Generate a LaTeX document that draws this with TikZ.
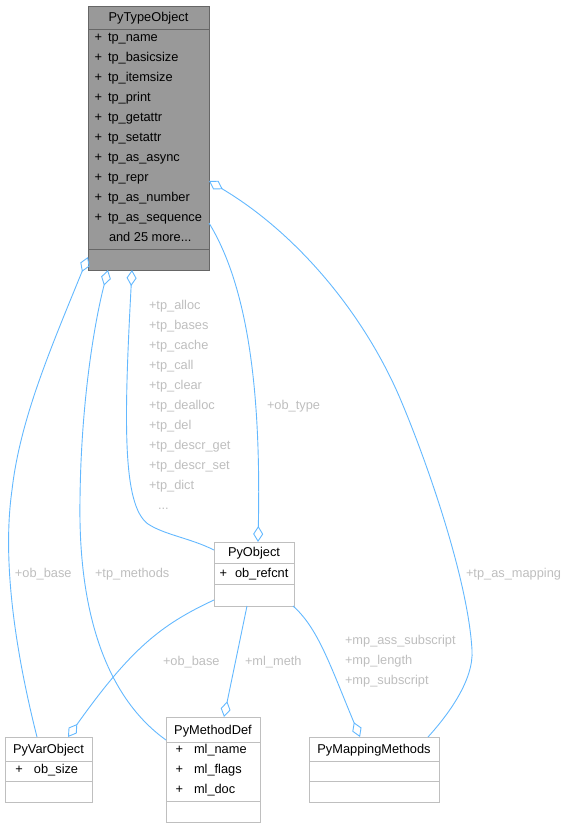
\documentclass[tikz,border=0pt]{standalone}
\usepackage{fontspec}
\setmainfont{Liberation Sans}
\usetikzlibrary{arrows.meta,calc}
\definecolor{edgec}{HTML}{63B8FF}
\definecolor{lblc}{HTML}{BEBEBE}
\definecolor{boxc}{HTML}{BFBFBF}
\definecolor{hlfill}{HTML}{999999}
\definecolor{hldraw}{HTML}{666666}
\begin{document}
\begin{tikzpicture}[x=1pt,y=-1pt,
  every node/.style={font=\fontsize{12.8}{15}\selectfont, inner sep=0pt, outer sep=0pt},
  classbox/.style={draw=boxc, fill=white, line width=1pt, rectangle, anchor=north west},
  hlbox/.style={draw=hldraw, fill=hlfill, line width=1pt, rectangle, anchor=north west},
  sepw/.style={draw=boxc, line width=1pt},
  seph/.style={draw=hldraw, line width=1pt},
  txt/.style={anchor=base west, text=black},
  ttl/.style={anchor=base, text=black},
  lbl/.style={anchor=base west, text=lblc},
  conn/.style={draw=edgec, line width=0.9pt, -{Diamond[open, length=16pt, width=10pt]}},
]
\useasboundingbox (0,0) rectangle (571,828);

% ---- PyTypeObject
\node[hlbox, minimum width=121pt, minimum height=264pt] (pto) at (88,6) {};
\draw[seph] ([yshift=-23pt]pto.north west) -- ([yshift=-23pt]pto.north east);
\draw[seph] ([yshift=21pt]pto.south west) -- ([yshift=21pt]pto.south east);
\node[ttl] (ptottl) at (148.5,21.5) {PyTypeObject};
\foreach \t [count=\i] in {tp\_name,tp\_basicsize,tp\_itemsize,tp\_print,tp\_getattr,tp\_setattr,tp\_as\_async,tp\_repr,tp\_as\_number,tp\_as\_sequence}{
  \node[txt] (ptop\i) at (94.5,21+20*\i) {+};
  \node[txt] (ptoa\i) at (108,21+20*\i) {\t};
}
\node[txt] (ptomore) at (109,241) {and 25 more...};

% ---- PyObject
\node[classbox, minimum width=80pt, minimum height=64pt] (po) at (214,542) {};
\draw[sepw] ([yshift=-21pt]po.north west) -- ([yshift=-21pt]po.north east);
\draw[sepw] ([yshift=22pt]po.south west) -- ([yshift=22pt]po.south east);
\node[ttl] (pottl) at (254,556.5) {PyObject};
\node[txt] (pop1) at (219.5,577.5) {+};
\node[txt] (poa1) at (235,577.5) {ob\_refcnt};

% ---- PyVarObject
\node[classbox, minimum width=87pt, minimum height=65pt] (pvo) at (5,737) {};
\draw[sepw] ([yshift=-24pt]pvo.north west) -- ([yshift=-24pt]pvo.north east);
\draw[sepw] ([yshift=21pt]pvo.south west) -- ([yshift=21pt]pvo.south east);
\node[ttl] (pvottl) at (48.5,753.5) {PyVarObject};
\node[txt] (pvop1) at (15.5,773.5) {+};
\node[txt] (pvoa1) at (34,773.5) {ob\_size};

% ---- PyMethodDef
\node[classbox, minimum width=94pt, minimum height=105pt] (pmd) at (166,717) {};
\draw[sepw] ([yshift=-25pt]pmd.north west) -- ([yshift=-25pt]pmd.north east);
\draw[sepw] ([yshift=21pt]pmd.south west) -- ([yshift=21pt]pmd.south east);
\node[ttl] (pmdttl) at (213,734.5) {PyMethodDef};
\foreach \t [count=\i] in {ml\_name,ml\_flags,ml\_doc}{
  \node[txt] (pmdp\i) at (175.5,733.5+20*\i) {+};
  \node[txt] (pmda\i) at (194,733.5+20*\i) {\t};
}

% ---- PyMappingMethods
\node[classbox, minimum width=130pt, minimum height=65pt] (pmm) at (309,737) {};
\draw[sepw] ([yshift=-24pt]pmm.north west) -- ([yshift=-24pt]pmm.north east);
\draw[sepw] ([yshift=21pt]pmm.south west) -- ([yshift=21pt]pmm.south east);
\node[ttl] (pmmttl) at (374,753.5) {PyMappingMethods};

% ---- connectors
\draw[conn] ([xshift=32pt]pvo.north west) .. controls (15,650) and (2,560) .. (12,490)
  .. controls (20,420) and (50,350) .. ([yshift=13pt]pto.south west);
\draw[conn] ([yshift=-23pt]pmd.north west) .. controls (110,700) and (78,620) .. (80,500)
  .. controls (81,400) and (95,320) .. ([xshift=20pt]pto.south west);
\draw[conn] ([yshift=-8pt]po.north west) .. controls (190,538) and (165,535) .. (148,524)
  .. controls (122,505) and (124,420) .. ([xshift=44pt]pto.south west);
\draw[conn] ([yshift=47pt]pto.south east) .. controls (250,290) and (261,400) .. ([xshift=44pt]po.north west);
\draw[conn] ([xshift=119pt]pmm.north west) .. controls (448,715) and (474,680) .. (472,650)
  .. controls (468,580) and (428,465) .. (402,403)
  .. controls (366,316) and (298,234) .. ([yshift=89pt]pto.south east);
\draw[conn] ([yshift=-58pt]po.north west) .. controls (160,625) and (130,650) .. ([xshift=63pt]pvo.north west);
\draw[conn] ([xshift=33pt]po.south west) -- ([xshift=58pt]pmd.north west);
\draw[conn] ([xshift=-1pt]po.south east) .. controls (318,628) and (330,665) .. ([xshift=51pt]pmm.north west);

% ---- labels
\node[lbl] (lobbase1) at (15,577.5) {+ob\_base};
\node[lbl] (ltpmeth) at (95,577.5) {+tp\_methods};
\foreach \t [count=\i] in {+tp\_alloc,+tp\_bases,+tp\_cache,+tp\_call,+tp\_clear,+tp\_dealloc,+tp\_del,+tp\_descr\_get,+tp\_descr\_set,+tp\_dict}{
  \node[lbl] (ltp\i) at (149,289.5+20*\i) {\t};
}
\node[lbl] (ltpdots) at (158,509.5) {...};
\node[lbl] (lobtype) at (267,409.5) {+ob\_type};
\node[lbl] (ltpmap) at (466,577.5) {+tp\_as\_mapping};
\node[lbl] (lobbase2) at (163,665.5) {+ob\_base};
\node[lbl] (lmlmeth) at (245,665.5) {+ml\_meth};
\node[lbl] (lmp1) at (345,644.5) {+mp\_ass\_subscript};
\node[lbl] (lmp2) at (345,664.5) {+mp\_length};
\node[lbl] (lmp3) at (345,684.5) {+mp\_subscript};
\end{tikzpicture}
\end{document}
